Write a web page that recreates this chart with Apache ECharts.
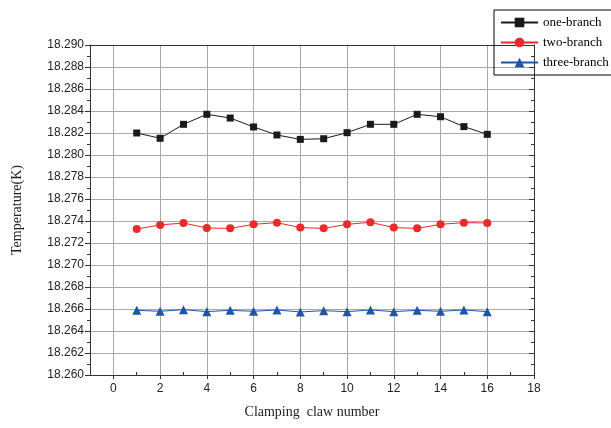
<!DOCTYPE html>
<html>
<head>
<meta charset="utf-8">
<script src="https://cdn.jsdelivr.net/npm/echarts@6/dist/echarts.min.js"></script>
<style>
  html, body { margin: 0; padding: 0; background: #fff; }
  #chart { width: 611px; height: 428px; }
</style>
</head>
<body>
<div id="chart"></div>
<script>
// clamping claw index 1..16
const clawNumbers = [1, 2, 3, 4, 5, 6, 7, 8, 9, 10, 11, 12, 13, 14, 15, 16]

const oneBranch = [18.2820, 18.28152, 18.28279, 18.2837, 18.28336, 18.28255, 18.28182, 18.28142,
  18.28148, 18.28203, 18.28279, 18.28279, 18.2837, 18.28348, 18.28258, 18.28188]
const twoBranch = [18.27327, 18.27364, 18.27382, 18.27336, 18.27333, 18.2737, 18.27385, 18.2734,
  18.27333, 18.2737, 18.27388, 18.2734, 18.27333, 18.2737, 18.27385, 18.27382]
const threeBranch = [18.26588, 18.26579, 18.26594, 18.26576, 18.26588, 18.26579, 18.26591, 18.26573,
  18.26585, 18.26576, 18.26591, 18.26576, 18.26588, 18.26579, 18.26591, 18.26576]

// tick labels on x (major) and the small in-between ticks
const xMajorTicks = [0, 2, 4, 6, 8, 10, 12, 14, 16, 18]
const xMinorTicks = [-1, 1, 3, 5, 7, 9, 11, 13, 15, 17]

const zip = (xs, ys) => xs.map((x, i) => [x, ys[i]])

const axisColor = '#333'
const gridColor = '#a8a8a8'
const sans = 'Liberation Sans'
const serif = 'Liberation Serif'

const chart = echarts.init(document.getElementById('chart'))

chart.setOption({
  animation: false,
  backgroundColor: '#fff',
  grid: { left: 90, right: 77, top: 45, bottom: 53 },
  legend: {
    orient: 'vertical',
    left: 494,
    top: 10,
    padding: [6, 8, 6, 6],
    borderColor: '#000',
    borderWidth: 1,
    itemWidth: 37,
    itemHeight: 12,
    itemGap: 7,
    textStyle: { fontFamily: serif, fontSize: 13, color: '#000' },
    data: ['one-branch', 'two-branch', 'three-branch']
  },
  xAxis: [{
    type: 'value',
    min: -1,
    max: 18,
    name: 'Clamping  claw number',
    nameLocation: 'middle',
    nameGap: 30,
    nameTextStyle: { fontFamily: serif, fontSize: 14, color: '#222' },
    axisLine: { onZero: false, lineStyle: { color: axisColor } },
    axisTick: { show: true, inside: false, length: 4, customValues: xMajorTicks, lineStyle: { color: axisColor } },
    axisLabel: { customValues: xMajorTicks, fontFamily: sans, fontSize: 12, color: '#222', margin: 8 },
    splitLine: { show: true, lineStyle: { color: gridColor } }
  }, {
    // inner minor ticks on the bottom
    type: 'value',
    position: 'bottom',
    min: -1,
    max: 18,
    axisLine: { show: false, onZero: false },
    axisTick: { show: true, inside: true, length: 3, customValues: xMinorTicks, lineStyle: { color: axisColor } },
    axisLabel: { show: false },
    splitLine: { show: false }
  }, {
    // top frame
    type: 'value',
    position: 'top',
    min: -1,
    max: 18,
    axisLine: { onZero: false, lineStyle: { color: axisColor } },
    axisTick: { show: false },
    axisLabel: { show: false },
    splitLine: { show: false }
  }],
  yAxis: [{
    type: 'value',
    min: 18.260,
    max: 18.290,
    interval: 0.002,
    name: 'Temperature(K)',
    nameLocation: 'middle',
    nameGap: 66,
    nameTextStyle: { fontFamily: serif, fontSize: 14, color: '#222' },
    axisLine: { show: true, onZero: false, lineStyle: { color: axisColor } },
    axisTick: { show: true, length: 5, lineStyle: { color: axisColor } },
    minorTick: { show: true, splitNumber: 2, length: 3, lineStyle: { color: axisColor } },
    axisLabel: {
      fontFamily: sans, fontSize: 12, color: '#222', margin: 6,
      formatter: v => v.toFixed(3)
    },
    splitLine: { show: true, lineStyle: { color: gridColor } }
  }, {
    // right frame, ticks pointing in
    type: 'value',
    position: 'right',
    min: 18.260,
    max: 18.290,
    interval: 0.002,
    axisLine: { show: true, onZero: false, lineStyle: { color: axisColor } },
    axisTick: { show: true, inside: true, length: 5, lineStyle: { color: axisColor } },
    minorTick: { show: true, splitNumber: 2, length: 3, lineStyle: { color: axisColor } },
    axisLabel: { show: false },
    splitLine: { show: false }
  }],
  series: [{
    name: 'one-branch',
    type: 'line',
    data: zip(clawNumbers, oneBranch),
    symbol: 'rect',
    symbolSize: 7,
    color: '#1a1a1a',
    lineStyle: { width: 1, color: '#1a1a1a' },
    itemStyle: { color: '#1a1a1a' }
  }, {
    name: 'two-branch',
    type: 'line',
    data: zip(clawNumbers, twoBranch),
    symbol: 'circle',
    symbolSize: 8,
    color: '#f02828',
    lineStyle: { width: 1, color: '#f02828' },
    itemStyle: { color: '#f02828' }
  }, {
    name: 'three-branch',
    type: 'line',
    data: zip(clawNumbers, threeBranch),
    symbol: 'triangle',
    symbolSize: 9,
    color: '#1f55a8',
    lineStyle: { width: 1, color: '#1f55a8' },
    itemStyle: { color: '#1f55a8' }
  }]
})
</script>
</body>
</html>
